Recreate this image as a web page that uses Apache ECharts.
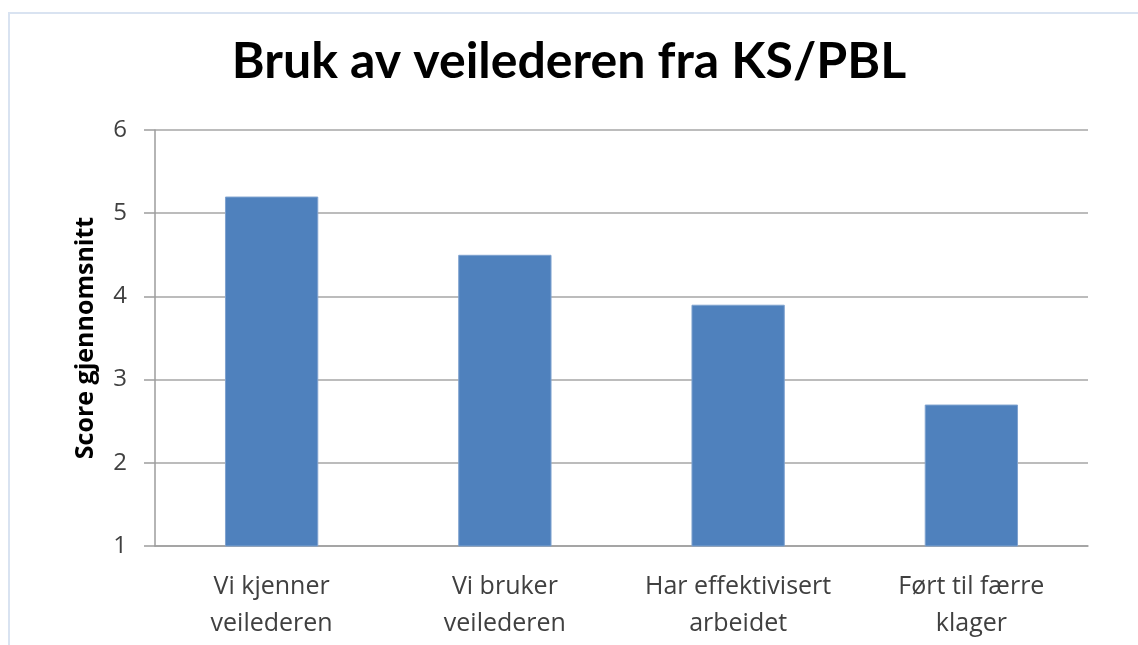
<!DOCTYPE html>
<html>
<head>
<meta charset="utf-8">
<script src="https://cdn.jsdelivr.net/npm/echarts@6/dist/echarts.min.js"></script>
<style>
  html, body { margin: 0; padding: 0; background: #fff; }
  #chart { width: 1138px; height: 645px; }
</style>
</head>
<body>
<div id="chart"></div>
<script>
var categories = ['Vi kjenner\nveilederen', 'Vi bruker\nveilederen', 'Har effektivisert\narbeidet', 'Ført til færre\nklager'];
var scores = [5.2, 4.5, 3.9, 2.7];

var chart = echarts.init(document.getElementById('chart'));

var option = {
    backgroundColor: '#fff',
    // ramme rundt diagrammet
    graphic: [{
        type: 'rect',
        shape: { x: 9, y: 13, width: 1200, height: 700 },
        style: { fill: 'none', stroke: '#d9e3f1', lineWidth: 2 },
        silent: true
    }],
    title: {
        text: 'Bruk av veilederen fra KS/PBL',
        left: 'center',
        top: 32,
        padding: [5, 5, 5, 18],
        textStyle: {
            fontFamily: 'Lato',
            fontSize: 50,
            fontWeight: 'bold',
            color: '#000'
        }
    },
    grid: {
        left: 155,
        right: 50,
        top: 130,
        bottom: 99
    },
    xAxis: {
        type: 'category',
        data: categories,
        axisLine: { lineStyle: { color: '#9d9d9d', width: 1.5 } },
        axisTick: { show: false },
        axisLabel: {
            color: '#404040',
            fontFamily: 'Open Sans',
            fontSize: 25,
            lineHeight: 37,
            margin: 22,
            interval: 0
        }
    },
    yAxis: {
        type: 'value',
        min: 1,
        max: 6,
        interval: 1,
        name: 'Score gjennomsnitt',
        nameLocation: 'middle',
        nameGap: 57,
        nameTextStyle: {
            fontFamily: 'Open Sans',
            fontSize: 25,
            fontWeight: 'bold',
            color: '#000'
        },
        axisLine: { show: true, lineStyle: { color: '#9d9d9d', width: 1.5 } },
        axisTick: { show: true, length: 11, lineStyle: { color: '#9d9d9d', width: 1.5 } },
        splitLine: { lineStyle: { color: '#a6a6a6', width: 1.5 } },
        axisLabel: {
            color: '#404040',
            fontFamily: 'Open Sans',
            fontSize: 24,
            margin: 28
        }
    },
    series: [{
        type: 'bar',
        data: scores,
        barWidth: '40%',
        itemStyle: { color: '#4f81bd', borderColor: '#7fa2cf', borderWidth: 1 }
    }]
};

chart.setOption(option);
</script>
</body>
</html>
